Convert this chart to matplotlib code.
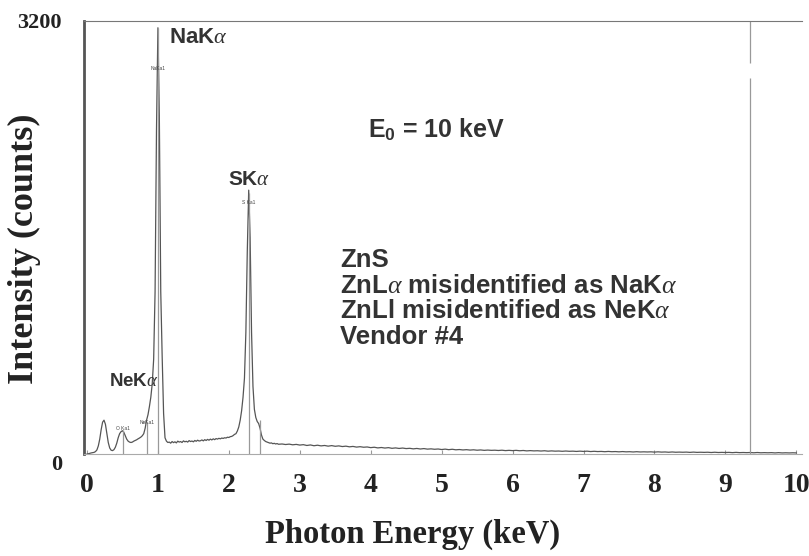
import numpy as np
import matplotlib
matplotlib.use("Agg")
import matplotlib.pyplot as plt
from matplotlib.transforms import ScaledTranslation

plt.rcParams['mathtext.fontset'] = 'custom'
plt.rcParams['mathtext.rm'] = 'Liberation Sans:bold'
plt.rcParams['mathtext.it'] = 'Liberation Serif:italic'
plt.rcParams['mathtext.bf'] = 'Liberation Sans:bold'

########################### Data ###################################

# low energy part of the spectrum, 0.00 - 2.70 keV in 0.02 keV channels
energy_low = np.round(np.arange(0.0, 2.701, 0.02), 2)
counts_low = [
    0, 2, 5, 8, 10, 12, 18, 30, 60, 110,            # 0.00 - 0.18
    180, 235, 250, 220, 150, 85, 45, 28, 25, 32,     # 0.20 - 0.38
    50, 80, 120, 150, 165, 172, 160, 135, 110, 95,   # 0.40 - 0.58
    88, 85, 88, 95, 100, 105, 112, 118, 125, 135,    # 0.60 - 0.78
    150, 190, 250, 290, 350, 420, 520, 700, 1200, 2400,  # 0.80 - 0.98
    3150, 2500, 1200, 720, 300, 120, 95, 85, 88, 80,  # 1.00 - 1.18
    92, 84, 90, 82, 95, 88, 92, 85, 97, 90,          # 1.20 - 1.38
    94, 88, 99, 92, 96, 90, 100, 94, 102, 96,        # 1.40 - 1.58
    98, 104, 97, 106, 100, 108, 102, 110, 104, 112,  # 1.60 - 1.78
    106, 114, 110, 116, 112, 118, 115, 120, 118, 124,  # 1.80 - 1.98
    122, 128, 130, 136, 145, 150, 170, 200, 250, 320,  # 2.00 - 2.18
    420, 560, 900, 1500, 1950, 1600, 900, 500, 330, 270,  # 2.20 - 2.38
    240, 225, 190, 140, 110, 100, 92, 88, 84, 80,    # 2.40 - 2.58
    82, 76, 79, 74, 77, 72,                          # 2.60 - 2.70
]

# high energy part, 2.75 - 10.00 keV in 0.05 keV channels
energy_high = np.round(np.arange(2.75, 10.001, 0.05), 2)
counts_high = [
    74, 70, 73, 68, 71,
    66, 69, 63, 67, 61, 65, 60, 63, 58, 62, 57, 60, 55, 58, 53, 56, 51, 54, 50, 52,
    47, 50, 45, 48, 44, 47, 42, 45, 41, 44, 40, 42, 38, 41, 37, 40, 36, 38, 35, 37,
    33, 36, 32, 35, 31, 33, 30, 32, 29, 31, 28, 30, 27, 29, 27, 28, 26, 28, 25, 27,
    25, 27, 24, 26, 23, 25, 23, 24, 22, 24, 21, 23, 21, 22, 20, 22, 20, 21, 19, 21,
    19, 21, 18, 20, 18, 19, 17, 19, 17, 18, 16, 18, 16, 17, 15, 17, 15, 16, 15, 16,
    14, 16, 14, 15, 13, 15, 13, 14, 13, 14, 12, 14, 12, 13, 12, 13, 11, 13, 11, 12,
    11, 12, 10, 12, 10, 11, 10, 11, 9, 11, 9, 10, 9, 10, 8, 10, 8, 9, 8, 9,
    8,
]

# peak identification markers from the vendor software
marker_names = ["O Ka1", "NeKa1", "NaKa1", "S Ka1", ""]
marker_energy = [0.51, 0.85, 1.00, 2.28, 2.44]
marker_height = [175, 235, 3150, 1930, 250]
marker_label_y = [190, 235, 2850, 1860, None]

# big peak labels
peak_names = [r"NaK$\alpha$", r"SK$\alpha$", r"NeK$\alpha$"]
peak_x = [1.15, 2.28, 0.66]
peak_y = [3000, 1960, 470]
peak_size = [16, 15, 13.5]

cutoff_energy = 9.34

########################### Plot ###################################

fig = plt.figure(figsize=(8.09, 5.56), dpi=100)
ax = fig.add_axes([84/809, 1 - 454/556, (802 - 84)/809, (454 - 21)/556])

energy = np.concatenate([energy_low, energy_high])
counts = np.concatenate([counts_low, counts_high])
ax.plot(energy, counts, color="#555555", lw=0.9)

# marker lines and their tiny labels
for name, e, h, ly in zip(marker_names, marker_energy, marker_height, marker_label_y):
    ax.vlines(e, 0, h, color="#999999", lw=0.9)
    if ly is not None:
        ax.text(e, ly, name, fontsize=3.5, ha="center", va="center",
                color="#444444", family="Liberation Sans")

# cut-off line at the right, with a little gap near the top
ax.vlines(cutoff_energy, 0, 2780, color="#999999", lw=0.9)
ax.vlines(cutoff_energy, 2890, 3200, color="#999999", lw=0.9)

for name, x, y, s in zip(peak_names, peak_x, peak_y, peak_size):
    ax.text(x, y, name, fontsize=s, ha="left" if name.startswith("Na") else "center",
            va="bottom", color="#333333", family="Liberation Sans", weight="bold")

ax.text(3.96, 2400, r"E$_0$ = 10 keV", fontsize=18, color="#333333",
        family="Liberation Sans", weight="bold", va="center")
ax.text(3.57, 1520, "ZnS\n" + r"ZnL$\alpha$ misidentified as NaK$\alpha$" + "\n"
        + "ZnLl misidentified as NeK" + r"$\alpha$" + "\nVendor #4",
        fontsize=18.5, color="#333333", family="Liberation Sans", weight="bold",
        va="top", linespacing=1.08)

ax.set_xlim(-0.042, 10.08)
ax.set_ylim(0, 3200)

ax.set_xticks(range(0, 11))
ax.set_yticks([0, 3200])
ax.tick_params(axis="x", direction="in", length=3, color="#999999", pad=14,
               labelsize=20)
ax.tick_params(axis="y", length=0, pad=16, labelsize=16)
for lab in ax.get_xticklabels() + ax.get_yticklabels():
    lab.set_family("Liberation Serif")
    lab.set_weight("bold")
    lab.set_color("#222222")

# the "0" on the y axis sits a little below the axis line
zero_lab = ax.yaxis.get_majorticklabels()[0]
zero_lab.set_transform(zero_lab.get_transform()
                       + ScaledTranslation(0, -8/100, fig.dpi_scale_trans))

ax.set_xlabel("Photon Energy (keV)", family="Liberation Serif", weight="bold",
              fontsize=23.5, color="#222222")
ax.set_ylabel("Intensity (counts)", family="Liberation Serif", weight="bold",
              fontsize=26, color="#222222")
ax.xaxis.set_label_coords(0.457, -0.15)
ax.yaxis.set_label_coords(-0.06, 0.475)

ax.spines["right"].set_visible(False)
ax.spines["left"].set_color("#555555")
ax.spines["left"].set_linewidth(2)
ax.spines["top"].set_color("#777777")
ax.spines["bottom"].set_color("#aaaaaa")

fig.savefig("out.png", dpi=100)
